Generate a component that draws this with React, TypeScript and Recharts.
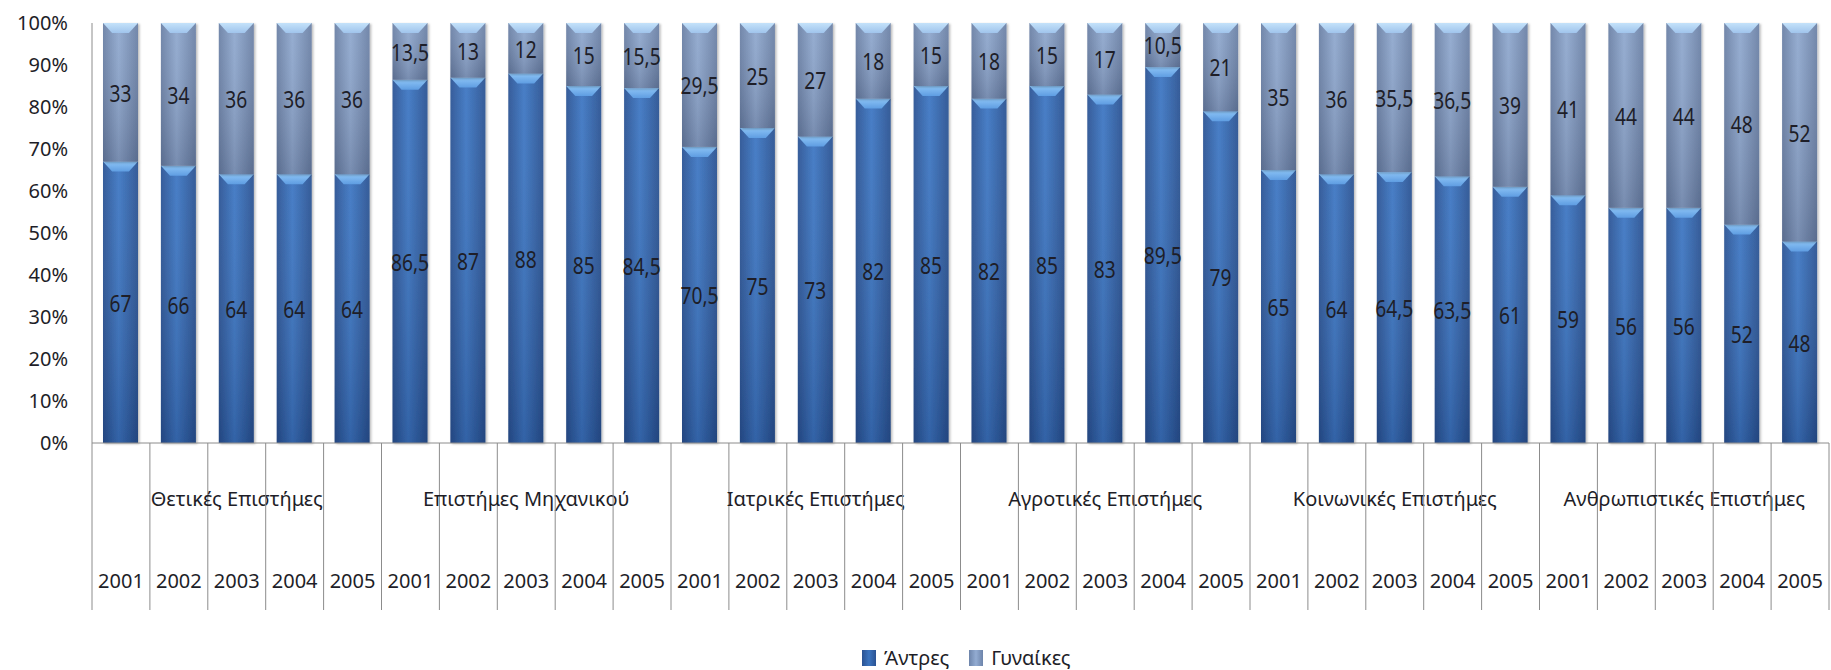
import { Bar, BarChart, LabelList, Legend, XAxis, YAxis } from "recharts"

const fields = [
  "Θετικές Επιστήμες",
  "Επιστήμες Μηχανικού",
  "Ιατρικές Επιστήμες",
  "Αγροτικές Επιστήμες",
  "Κοινωνικές Επιστήμες",
  "Ανθρωπιστικές Επιστήμες",
]

const years = ["2001", "2002", "2003", "2004", "2005"]

// Άντρες, five years per field
const menValues = [
  67, 66, 64, 64, 64,
  86.5, 87, 88, 85, 84.5,
  70.5, 75, 73, 82, 85,
  82, 85, 83, 89.5, 79,
  65, 64, 64.5, 63.5, 61,
  59, 56, 56, 52, 48,
]

// Γυναίκες, five years per field
const womenValues = [
  33, 34, 36, 36, 36,
  13.5, 13, 12, 15, 15.5,
  29.5, 25, 27, 18, 15,
  18, 15, 17, 10.5, 21,
  35, 36, 35.5, 36.5, 39,
  41, 44, 44, 48, 52,
]

const yTicks = [0, 10, 20, 30, 40, 50, 60, 70, 80, 90, 100]

const rows = fields.flatMap((field, i) =>
  years.map((year, j) => ({
    key: `${field} ${year}`,
    field,
    year,
    men: menValues[i * years.length + j],
    women: womenValues[i * years.length + j],
  }))
)

const FONT = "'Noto Sans', 'Open Sans', sans-serif"
const AXIS_GREY = "#8c8c8c"
const TEXT = "#1e1e28"

const fmt = (v: unknown) => String(v).replace(".", ",")

function makeSegment(kind: "men" | "women") {
  return (props: any) => {
    const { x, y, width, height } = props
    if (!height || height <= 0) return <g />
    const cap = Math.min(10, height)
    return (
      <g filter="url(#barShadow)">
        <rect x={x} y={y} width={width} height={height} fill={`url(#${kind}Body)`} />
        <rect x={x} y={y} width={width} height={height} fill="url(#shadeV)" />
        <polygon
          points={`${x},${y} ${x + width},${y} ${x + width * 0.74},${y + cap} ${x + width * 0.26},${y + cap}`}
          fill={`url(#${kind}Cap)`}
        />
      </g>
    )
  }
}

// narrow, tall data labels like the original's Calibri
function SegmentLabel(props: any) {
  const { x, y, width, height, value } = props
  if (value == null) return null
  const cx = x + width / 2
  const cy = y + height / 2
  return (
    <text
      x={cx}
      y={cy}
      textAnchor="middle"
      dominantBaseline="central"
      fontFamily={FONT}
      fontSize={24}
      fill={TEXT}
      transform={`translate(${cx},${cy}) scale(0.8,1) translate(${-cx},${-cy})`}
    >
      {fmt(value)}
    </text>
  )
}

function CategoryTick(props: any) {
  const { x, y, payload } = props
  const idx = payload.index ?? props.index
  const row = rows[idx]
  const half = payload.offset ? payload.offset : 28.95
  const left = x - half
  return (
    <g>
      <line x1={left} x2={left} y1={y} y2={y + 167} stroke={AXIS_GREY} />
      {idx === rows.length - 1 && (
        <line x1={x + half} x2={x + half} y1={y} y2={y + 167} stroke={AXIS_GREY} />
      )}
      <text
        x={x}
        y={y + 137}
        textAnchor="middle"
        dominantBaseline="central"
        fontFamily={FONT}
        fontSize={20}
        fill={TEXT}
      >
        {row.year}
      </text>
      {idx % years.length === 2 && (
        <text
          x={x}
          y={y + 55}
          textAnchor="middle"
          dominantBaseline="central"
          fontFamily={FONT}
          fontSize={20}
          fill={TEXT}
        >
          {row.field}
        </text>
      )}
    </g>
  )
}

function LegendContent() {
  const items = [
    { label: "Άντρες", bg: "linear-gradient(90deg,#2a5292,#3b74bf 50%,#2a5292)" },
    { label: "Γυναίκες", bg: "linear-gradient(90deg,#6d84aa,#93acd2 50%,#6d84aa)" },
  ]
  return (
    <div style={{ display: "flex", alignItems: "center", gap: 20, fontFamily: FONT, fontSize: 20, color: TEXT }}>
      {items.map((it) => (
        <div key={it.label} style={{ display: "flex", alignItems: "center", gap: 8 }}>
          <span style={{ width: 14, height: 16, background: it.bg, display: "inline-block" }} />
          <span>{it.label}</span>
        </div>
      ))}
    </div>
  )
}

export default function App() {
  return (
    <div style={{ position: "absolute", left: 0, top: 0, background: "#fff" }}>
      <BarChart
        width={1831}
        height={670}
        data={rows}
        margin={{ top: 23, right: 2, bottom: 0, left: 0 }}
        barSize={35}
      >
        <defs>
          <linearGradient id="menBody" x1="0" y1="0" x2="1" y2="0">
            <stop offset="0%" stopColor="#2a5394" />
            <stop offset="45%" stopColor="#3c76c3" />
            <stop offset="100%" stopColor="#295292" />
          </linearGradient>
          <linearGradient id="womenBody" x1="0" y1="0" x2="1" y2="0">
            <stop offset="0%" stopColor="#6a80a5" />
            <stop offset="45%" stopColor="#8fa8ce" />
            <stop offset="100%" stopColor="#6a80a5" />
          </linearGradient>
          <linearGradient id="shadeV" x1="0" y1="0" x2="0" y2="1">
            <stop offset="0%" stopColor="#ffffff" stopOpacity={0.06} />
            <stop offset="100%" stopColor="#000014" stopOpacity={0.16} />
          </linearGradient>
          <linearGradient id="menCap" x1="0" y1="0" x2="0" y2="1">
            <stop offset="0%" stopColor="#8cc4f6" />
            <stop offset="100%" stopColor="#5f9de2" />
          </linearGradient>
          <linearGradient id="womenCap" x1="0" y1="0" x2="0" y2="1">
            <stop offset="0%" stopColor="#c4e2fa" />
            <stop offset="100%" stopColor="#a0c4ec" />
          </linearGradient>
          <filter id="barShadow" x="-20%" y="-5%" width="140%" height="110%">
            <feDropShadow dx="1.5" dy="1" stdDeviation="1.2" floodColor="#000" floodOpacity="0.28" />
          </filter>
        </defs>
        <XAxis
          dataKey="key"
          interval={0}
          height={227}
          tickLine={false}
          tickSize={0}
          tickMargin={0}
          axisLine={{ stroke: AXIS_GREY }}
          tick={<CategoryTick />}
        />
        <YAxis
          domain={[0, 100]}
          ticks={yTicks}
          width={92}
          tickLine={false}
          tickSize={0}
          tickMargin={24}
          axisLine={{ stroke: AXIS_GREY }}
          tickFormatter={(v) => `${v}%`}
          tick={{ fontFamily: FONT, fontSize: 20, fill: TEXT }}
        />
        <Legend
          layout="horizontal"
          verticalAlign="middle"
          align="center"
          content={<LegendContent />}
          wrapperStyle={{ top: 644, left: 862, width: 300 }}
        />
        <Bar dataKey="men" name="Άντρες" stackId="a" shape={makeSegment("men")} isAnimationActive={false}>
          <LabelList dataKey="men" position="center" content={<SegmentLabel />} />
        </Bar>
        <Bar dataKey="women" name="Γυναίκες" stackId="a" shape={makeSegment("women")} isAnimationActive={false}>
          <LabelList dataKey="women" position="center" content={<SegmentLabel />} />
        </Bar>
      </BarChart>
    </div>
  )
}
